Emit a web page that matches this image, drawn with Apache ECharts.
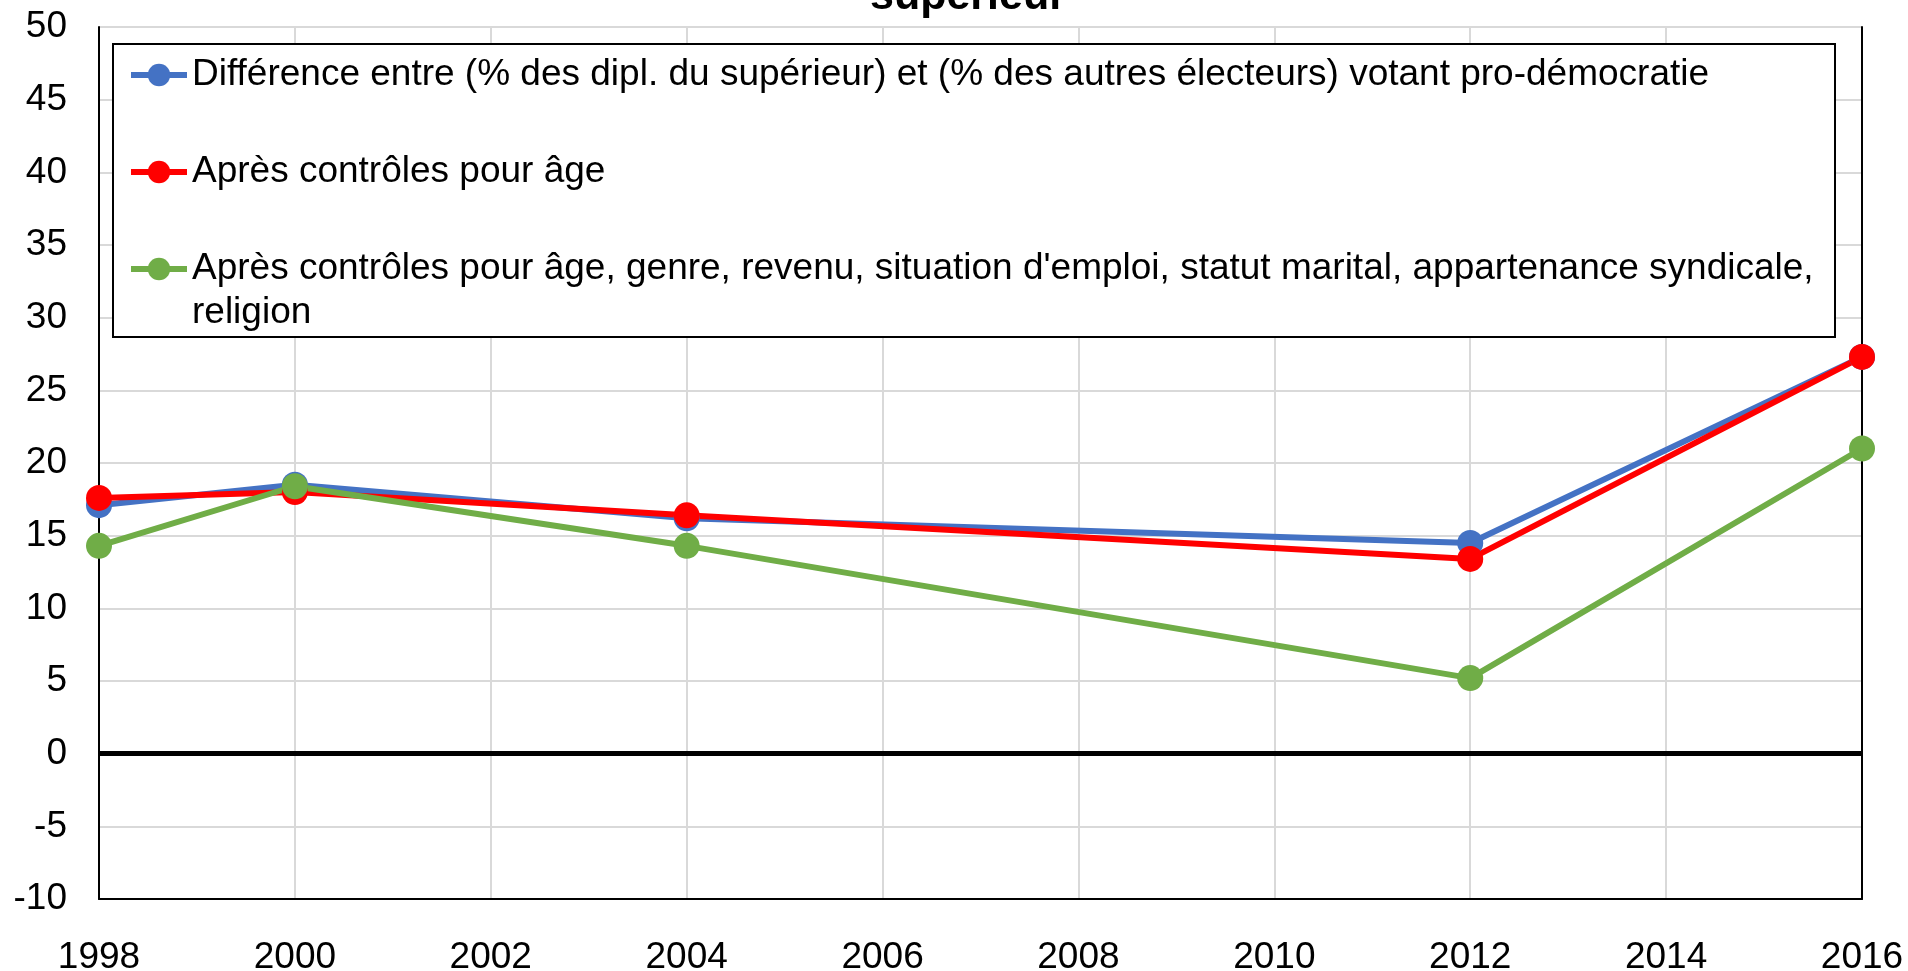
<!DOCTYPE html>
<html>
<head>
<meta charset="utf-8">
<script src="https://cdn.jsdelivr.net/npm/echarts@6/dist/echarts.min.js"></script>
<style>
  html, body { margin: 0; padding: 0; background: #fff; }
  #chart { width: 1908px; height: 971px; }
</style>
</head>
<body>
<div id="chart"></div>
<script>
var years = [1998, 2000, 2004, 2012, 2016];
var diffAll = [17.1, 18.5, 16.2, 14.5, 27.3];
var ctrlAge = [17.6, 18.0, 16.4, 13.4, 27.3];
var ctrlFull = [14.3, 18.4, 14.3, 5.2, 21.0];

var names = [
  "Différence entre (% des dipl. du supérieur) et (% des autres électeurs) votant pro-démocratie",
  "Après contrôles pour âge",
  "Après contrôles pour âge, genre, revenu, situation d'emploi, statut marital, appartenance syndicale,\nreligion"
];
var colors = ['#4472C4', '#FF0000', '#70AD47'];

function pairs(vals) {
  return years.map(function (y, i) { return [y, vals[i]]; });
}

var font = "'Liberation Sans', Arial, sans-serif";

function makeSeries(name, vals, color) {
  return {
    name: name,
    type: 'line',
    data: pairs(vals),
    symbol: 'circle',
    symbolSize: 26,
    lineStyle: { color: color, width: 6 },
    itemStyle: { color: color },
    emphasis: { disabled: true }
  };
}

var series = [
  makeSeries(names[0], diffAll, colors[0]),
  makeSeries(names[1], ctrlAge, colors[1]),
  makeSeries(names[2], ctrlFull, colors[2])
];
series[0].markLine = {
  silent: true,
  symbol: 'none',
  label: { show: false },
  lineStyle: { color: '#000', width: 5, type: 'solid' },
  data: [{ yAxis: 0 }]
};

var frameAxis = {
  axisLine: { show: true, lineStyle: { color: '#000', width: 2 } },
  axisTick: { show: false },
  axisLabel: { show: false },
  splitLine: { show: false }
};

var legendText = { fontFamily: font, fontSize: 37, color: '#000', lineHeight: 44 };

var myChart = echarts.init(document.getElementById('chart'));
var option = {
  animation: false,
  title: {
    text: 'supérieur',
    left: 870,
    top: -24,
    padding: 0,
    textStyle: { fontFamily: font, fontSize: 43, fontWeight: 'bold', color: '#000' }
  },
  grid: { left: 99, right: 46, top: 27, bottom: 72, outerBoundsMode: 'none', containLabel: false },
  graphic: [{
    type: 'rect',
    z: 3,
    shape: { x: 113, y: 44, width: 1722, height: 293 },
    style: { fill: '#fff', stroke: '#000', lineWidth: 2 }
  }],
  legend: [{
    data: [names[0], names[1]],
    orient: 'vertical',
    left: 128, top: 53, padding: 0,
    itemWidth: 56, itemHeight: 28, itemGap: 53,
    selectedMode: false,
    lineStyle: { width: 6 },
    textStyle: legendText
  }, {
    data: [names[2]],
    orient: 'vertical',
    left: 128, top: 203, padding: 0,
    itemWidth: 56, itemHeight: 28,
    selectedMode: false,
    lineStyle: { width: 6 },
    formatter: function (n) { return '\n' + n; },
    textStyle: legendText
  }],
  xAxis: [{
    type: 'value',
    min: 1998, max: 2016, interval: 2,
    axisLine: { show: true, onZero: false, lineStyle: { color: '#000', width: 2 } },
    axisTick: { show: false },
    axisLabel: {
      margin: 40, color: '#000', fontFamily: font, fontSize: 37,
      formatter: function (v) { return String(v); }
    },
    splitLine: { show: true, lineStyle: { color: '#d9d9d9', width: 2 } }
  }, Object.assign({ type: 'value', position: 'top', min: 1998, max: 2016 }, frameAxis)],
  yAxis: [{
    type: 'value',
    min: -10, max: 50, interval: 5,
    axisLine: { show: true, lineStyle: { color: '#000', width: 2 } },
    axisTick: { show: false },
    axisLabel: { margin: 32, color: '#000', fontFamily: font, fontSize: 37 },
    splitLine: { show: true, lineStyle: { color: '#d9d9d9', width: 2 } }
  }, Object.assign({ type: 'value', position: 'right', min: -10, max: 50 }, frameAxis)],
  series: series
};
myChart.setOption(option);
</script>
</body>
</html>
